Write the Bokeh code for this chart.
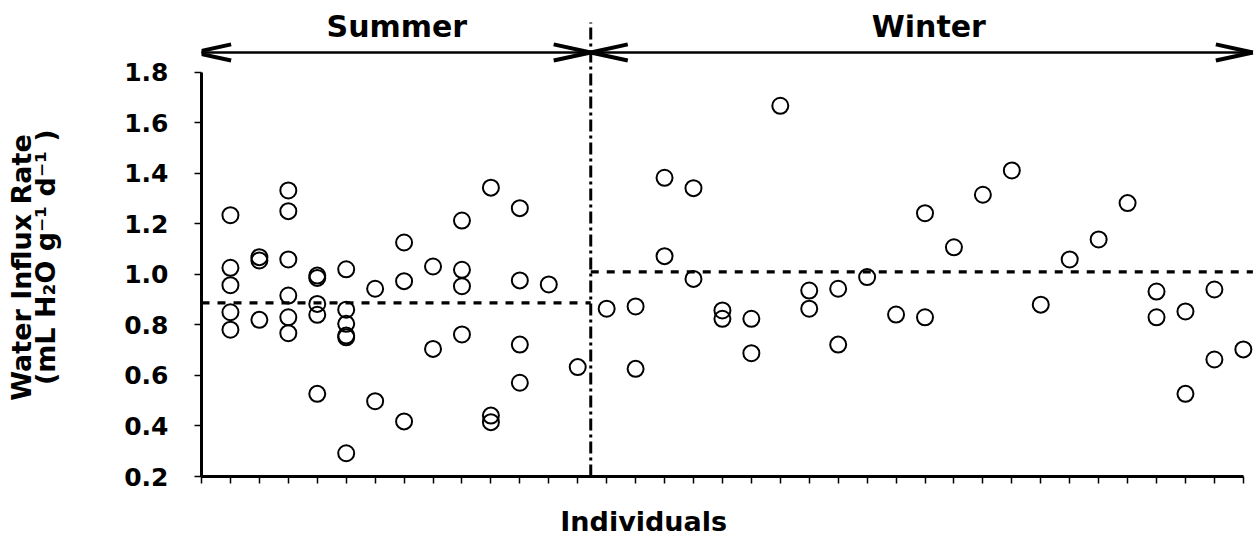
import math
from bokeh.plotting import figure
from bokeh.layouts import row, column
from bokeh.models import (Range1d, FixedTicker, PrintfTickFormatter,
                          CustomJSTickFormatter)
from bokeh.core.properties import value
from bokeh.embed import file_html
from bokeh.resources import INLINE

# ---------------- data ----------------
summer_x = [1, 1, 1, 1, 1,
            2, 2, 2,
            3, 3, 3, 3, 3, 3,
            4, 4, 4, 4, 4,
            5, 5, 5, 5, 5, 5,
            6, 6,
            7, 7, 7,
            8, 8,
            9, 9, 9, 9,
            10, 10, 10,
            11, 11, 11, 11,
            12,
            13]
summer_y = [1.234, 1.026, 0.957, 0.850, 0.781,
            1.068, 1.055, 0.820,
            1.332, 1.250, 1.059, 0.916, 0.830, 0.767,
            0.995, 0.986, 0.883, 0.840, 0.527,
            1.020, 0.860, 0.804, 0.758, 0.751, 0.292,
            0.943, 0.498,
            1.126, 0.973, 0.418,
            1.031, 0.705,
            1.213, 1.018, 0.953, 0.762,
            1.343, 0.441, 0.415,
            1.262, 0.976, 0.722, 0.571,
            0.960,
            0.633]

winter_x = [14,
            15, 15,
            16, 16,
            17, 17,
            18, 18,
            19, 19,
            20,
            21, 21,
            22, 22,
            23,
            24,
            25, 25,
            26,
            27,
            28,
            29,
            30,
            31,
            32,
            33, 33,
            34, 34,
            35, 35,
            36]
winter_y = [0.864,
            0.873, 0.626,
            1.382, 1.072,
            1.341, 0.982,
            0.857, 0.824,
            0.824, 0.688,
            1.667,
            0.936, 0.864,
            0.943, 0.722,
            0.989,
            0.841,
            1.242, 0.830,
            1.107,
            1.315,
            1.411,
            0.880,
            1.059,
            1.138,
            1.282,
            0.932, 0.830,
            0.853, 0.527,
            0.940, 0.663,
            0.703]

summer_mean = 0.887
winter_mean = 1.01
season_names = ["Summer", "Winter"]
y_ticks = [0.2, 0.4, 0.6, 0.8, 1.0, 1.2, 1.4, 1.6, 1.8]
n_individuals = 36
y_title_lines = ["Water Influx Rate", "(mL H\u2082O g\u207b\u00b9  d\u207b\u00b9 )"]
x_title = "Individuals"

# ---------------- layout constants ----------------
FONT = "DejaVu Sans"
PXU = 28.94            # px per individual
PYU = 252.7            # px per y unit
STRIP_W = 100          # left strip holding the y title
MAIN_W, MAIN_H = 1156, 498
FOOT_H = 40
TOT_H = MAIN_H + FOOT_H
BL, BR, BT, BB = 101, 2, 14, 22
SPLIT = 13.45          # season boundary
ARROW_Y = 1.878
ARROW_L, ARROW_R = -0.256, 36.33
HEAD_LEN = 1.28
HEAD_HALF = 0.032
DIV_TOP = 1.997
SEASON_TEXT_Y = 1.981
XTITLE_X = 15.28

X_END = (MAIN_W - BL - BR) / PXU
Y_TOP = 0.2 + (MAIN_H - BT - BB) / PYU


def clean(fig):
    fig.outline_line_color = None
    fig.background_fill_color = "white"
    fig.border_fill_color = "white"
    fig.xgrid.grid_line_color = None
    fig.ygrid.grid_line_color = None
    return fig


# ================= main plot =================
p = clean(figure(width=MAIN_W, height=MAIN_H,
                 x_range=Range1d(0, X_END), y_range=Range1d(0.2, Y_TOP),
                 output_backend="svg", toolbar_location=None,
                 min_border_left=BL, min_border_right=BR,
                 min_border_top=BT, min_border_bottom=BB))

yax = p.yaxis[0]
yax.bounds = (0.2, 1.8)
yax.ticker = FixedTicker(ticks=y_ticks)
yax.formatter = PrintfTickFormatter(format="%.1f")
yax.axis_line_width = 3
yax.axis_line_color = "black"
yax.major_tick_out = 7
yax.major_tick_in = 0
yax.major_tick_line_width = 1.5
yax.minor_tick_out = 0
yax.minor_tick_in = 0
yax.major_label_text_font = FONT
yax.major_label_text_font_style = "bold"
yax.major_label_text_font_size = "25px"
yax.major_label_text_color = "black"
yax.major_label_standoff = 26

xax = p.xaxis[0]
xax.bounds = (0, n_individuals)
xax.ticker = FixedTicker(ticks=list(range(0, n_individuals + 1)))
xax.formatter = CustomJSTickFormatter(code="return ''")
xax.axis_line_width = 3
xax.axis_line_color = "black"
xax.major_tick_out = 7
xax.major_tick_in = 0
xax.major_tick_line_width = 1.5
xax.minor_tick_out = 0
xax.minor_tick_in = 0
xax.major_label_standoff = 0

# header: season arrows and names
shafts_x0 = [ARROW_L, SPLIT]
shafts_x1 = [SPLIT, ARROW_R]
p.segment(x0=shafts_x0, y0=[ARROW_Y] * 2, x1=shafts_x1, y1=[ARROW_Y] * 2,
          line_color="black", line_width=2.5)
hx0, hy0, hx1, hy1 = [], [], [], []
for a, b in zip(shafts_x0, shafts_x1):
    for tip, d in ((a, 1), (b, -1)):
        for s in (1, -1):
            hx0.append(tip)
            hy0.append(ARROW_Y)
            hx1.append(tip + d * HEAD_LEN)
            hy1.append(ARROW_Y + s * HEAD_HALF)
p.segment(x0=hx0, y0=hy0, x1=hx1, y1=hy1, line_color="black", line_width=4)
p.text(x=[6.75, 25.13], y=[SEASON_TEXT_Y] * 2, text=season_names,
       text_align="center", text_baseline="alphabetic",
       text_font=value(FONT), text_font_style="bold",
       text_font_size="30px", text_color="black")

# mean lines and season divider
p.segment(x0=[0, SPLIT], y0=[summer_mean, winter_mean],
          x1=[SPLIT, ARROW_R], y1=[summer_mean, winter_mean],
          line_color="black", line_width=3.3, line_dash="8 8")
p.segment(x0=[SPLIT], y0=[0.2], x1=[SPLIT], y1=[DIV_TOP],
          line_color="black", line_width=3, line_dash="12 4 3 4")

# points
p.scatter(summer_x, summer_y, marker="circle", size=16, fill_color=None,
          line_color="black", line_width=2)
p.scatter(winter_x, winter_y, marker="circle", size=16, fill_color=None,
          line_color="black", line_width=2)

# ================= footer (x title), frame aligned with main =================
foot = clean(figure(width=MAIN_W, height=FOOT_H,
                    x_range=Range1d(0, X_END),
                    y_range=Range1d(TOT_H, MAIN_H),
                    x_axis_location=None, y_axis_location=None,
                    output_backend="svg", toolbar_location=None,
                    min_border_left=BL, min_border_right=BR,
                    min_border_top=0, min_border_bottom=0))
foot.text(x=[XTITLE_X], y=[521], text=[x_title], text_align="center",
          text_baseline="alphabetic", text_font=value(FONT),
          text_font_style="bold", text_font_size="27px", text_color="black")

# ================= left strip (y title) =================
strip = clean(figure(width=STRIP_W, height=TOT_H,
                     x_range=Range1d(0, STRIP_W), y_range=Range1d(TOT_H, 0),
                     x_axis_location=None, y_axis_location=None,
                     output_backend="svg", toolbar_location=None,
                     min_border=0))
strip.text(x=[21, 45], y=[267, 252], text=y_title_lines, angle=math.pi / 2,
           text_align="center", text_baseline="alphabetic",
           text_font=value(FONT), text_font_style="bold",
           text_font_size="27px", text_color="black")

layout = row(strip, column(p, foot, spacing=0), spacing=0)
open("out.html", "w").write(file_html(layout, INLINE))
